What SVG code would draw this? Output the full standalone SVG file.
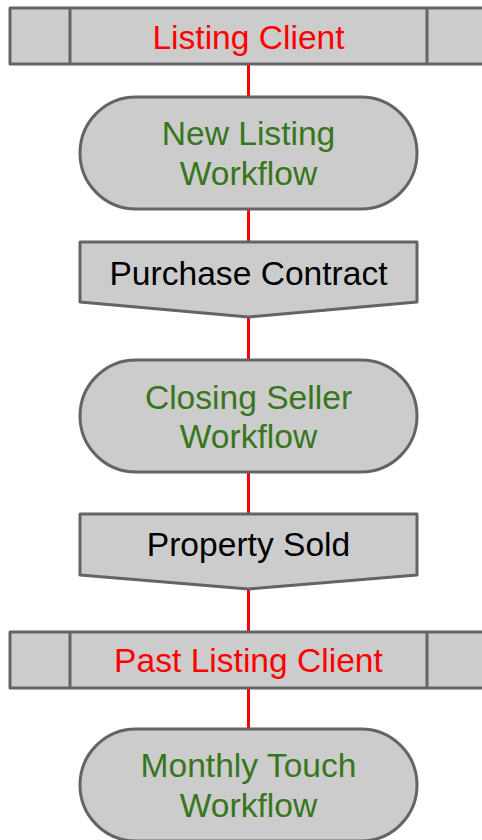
<svg xmlns="http://www.w3.org/2000/svg" width="482" height="840" viewBox="0 0 482 840">
<style>
.shape{fill:#cccccc;stroke:#646464;stroke-width:3;stroke-linejoin:round}
.div{stroke:#646464;stroke-width:3}
.conn{stroke:#ff0000;stroke-width:3;fill:none}
text{font-family:"Liberation Sans",Arial,sans-serif;font-size:33.6px;text-anchor:middle}
.red{fill:#ff0000}
.green{fill:#38761d}
.black{fill:#000000}
</style>
<rect width="482" height="840" fill="#ffffff"/>
<g id="connectors">
<line class="conn" x1="248.5" y1="64" x2="248.5" y2="97"/>
<line class="conn" x1="248.5" y1="209" x2="248.5" y2="242"/>
<line class="conn" x1="248.5" y1="317" x2="248.5" y2="360"/>
<line class="conn" x1="248.5" y1="472" x2="248.5" y2="514"/>
<line class="conn" x1="248.5" y1="589" x2="248.5" y2="632"/>
<line class="conn" x1="248.5" y1="688" x2="248.5" y2="729"/>
</g>
<g id="listing-client">
<rect class="shape" x="10" y="8" width="477" height="56"/>
<line class="div" x1="70" y1="8" x2="70" y2="64"/>
<line class="div" x1="427" y1="8" x2="427" y2="64"/>
<text class="red" x="248.5" y="49">Listing Client</text>
</g>
<g id="new-listing-workflow">
<rect class="shape" x="80" y="97" width="337" height="112" rx="56" ry="56"/>
<text class="green" x="248.5" y="145">New Listing</text>
<text class="green" x="248.5" y="185">Workflow</text>
</g>
<g id="purchase-contract">
<polygon class="shape" points="80,242 417,242 417,302 248.5,317 80,302"/>
<text class="black" x="248.5" y="285">Purchase Contract</text>
</g>
<g id="closing-seller-workflow">
<rect class="shape" x="80" y="360" width="337" height="112" rx="56" ry="56"/>
<text class="green" x="248.5" y="409">Closing Seller</text>
<text class="green" x="248.5" y="448">Workflow</text>
</g>
<g id="property-sold">
<polygon class="shape" points="80,514 417,514 417,575 248.5,589 80,575"/>
<text class="black" x="248.5" y="556">Property Sold</text>
</g>
<g id="past-listing-client">
<rect class="shape" x="10" y="632" width="477" height="56"/>
<line class="div" x1="70" y1="632" x2="70" y2="688"/>
<line class="div" x1="427" y1="632" x2="427" y2="688"/>
<text class="red" x="248.5" y="672">Past Listing Client</text>
</g>
<g id="monthly-touch-workflow">
<rect class="shape" x="80" y="729" width="337" height="112" rx="56" ry="56"/>
<text class="green" x="248.5" y="777">Monthly Touch</text>
<text class="green" x="248.5" y="817">Workflow</text>
</g>
</svg>
